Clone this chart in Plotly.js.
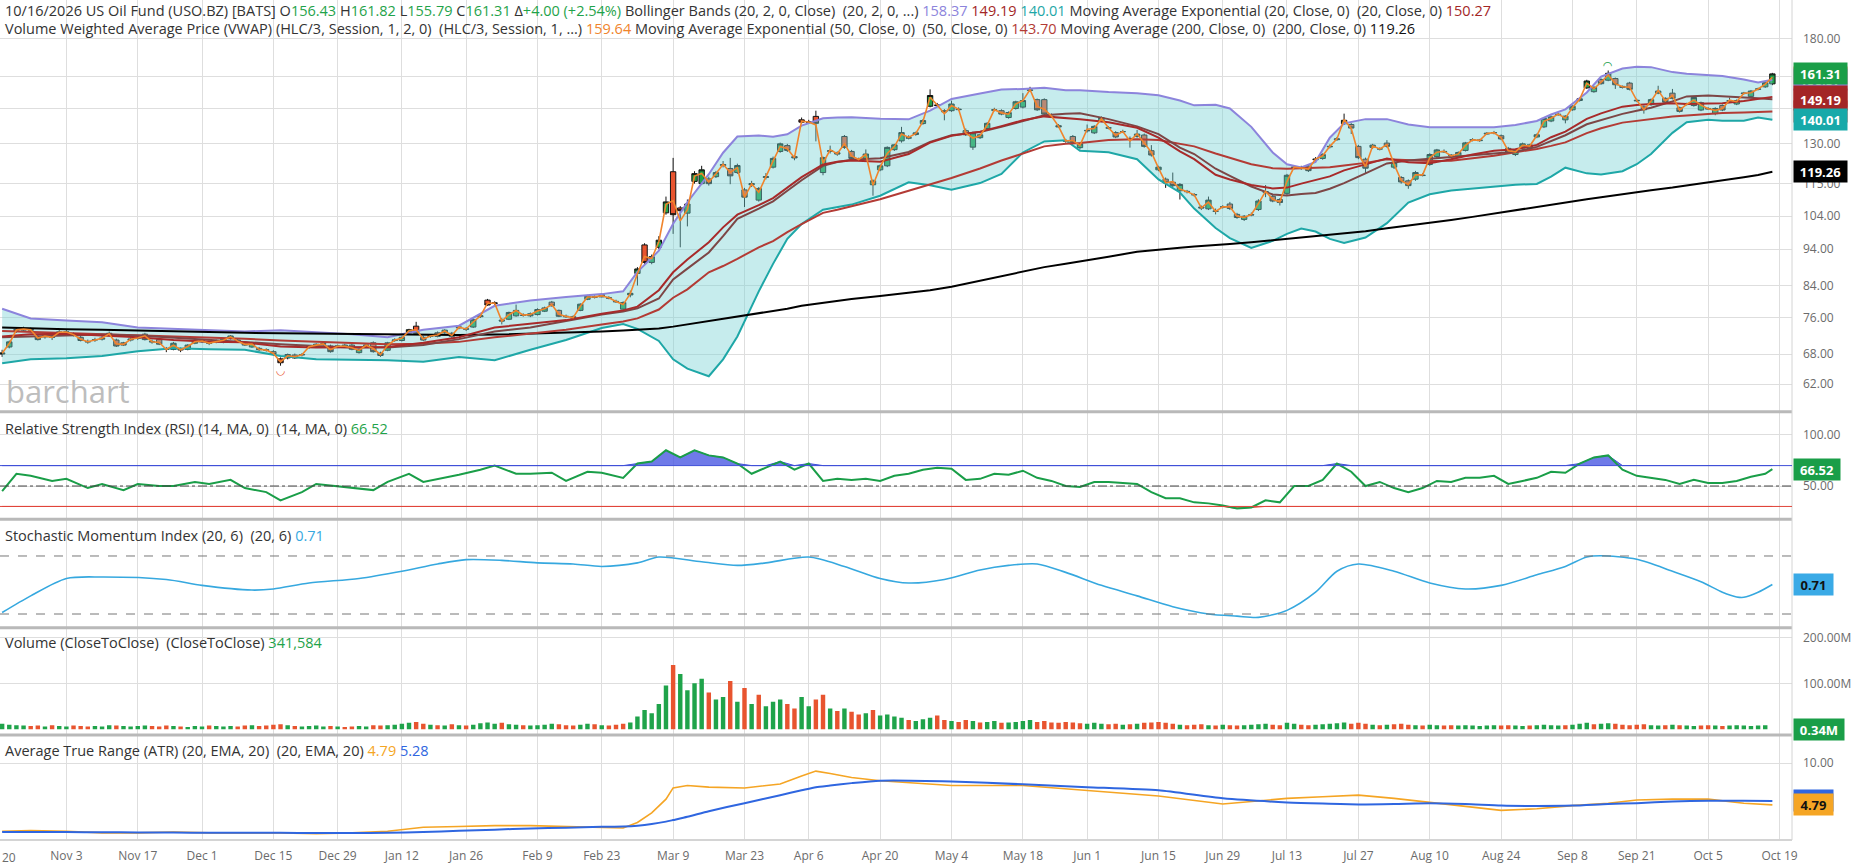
<!DOCTYPE html>
<html><head><meta charset="utf-8">
<script src="https://cdn.plot.ly/plotly-3.0.1.min.js"></script>
<style>html,body{margin:0;padding:0;background:#fff;overflow:hidden}#chart{width:1858px;height:868px}</style>
</head><body><div id="chart"></div>
<script>
// ---------- calendar ----------
const START_DATE = '2025-10-20';
const END_DATE = '2026-10-21';
const HOLIDAYS = ['2025-11-27','2025-12-25','2026-01-01','2026-01-19','2026-02-16','2026-04-03','2026-05-25','2026-06-19','2026-07-03','2026-09-07'];
const TICK_DATES = ['2025-10-20','2025-11-03','2025-11-17','2025-12-01','2025-12-15','2025-12-29','2026-01-12','2026-01-26','2026-02-09','2026-02-23','2026-03-09','2026-03-23','2026-04-06','2026-04-20','2026-05-04','2026-05-18','2026-06-01','2026-06-15','2026-06-29','2026-07-13','2026-07-27','2026-08-10','2026-08-24','2026-09-08','2026-09-21','2026-10-05','2026-10-19'];
const TICK_LABELS = ['Oct 20','Nov 3','Nov 17','Dec 1','Dec 15','Dec 29','Jan 12','Jan 26','Feb 9','Feb 23','Mar 9','Mar 23','Apr 6','Apr 20','May 4','May 18','Jun 1','Jun 15','Jun 29','Jul 13','Jul 27','Aug 10','Aug 24','Sep 8','Sep 21','Oct 5','Oct 19'];

// ---------- daily candles (trading-day index 1 = 2025-10-21 ... 249 = 2026-10-16) ----------
const OPEN = [68.0,69.5,73.1,73.2,73.4,71.8,71.7,71.8,72.5,72.7,72.3,71.6,70.7,71.0,71.2,72.5,71.0,70.4,71.0,71.4,71.1,70.7,71.1,69.1,69.0,69.0,69.0,70.3,70.6,70.4,70.6,70.5,71.3,71.0,70.4,69.5,69.2,68.9,68.5,67.0,67.2,67.8,67.8,69.4,69.5,70.1,69.7,69.6,69.9,69.9,68.3,69.8,70.4,68.2,68.8,70.9,70.9,72.6,74.1,71.6,71.8,72.6,72.6,72.5,73.7,73.4,73.9,76.3,80.3,79.5,75.5,75.7,76.5,76.7,76.5,76.8,77.6,79.8,77.8,76.4,76.3,77.8,80.5,81.0,81.7,80.9,80.0,78.1,81.6,87.2,95.2,90.2,94.5,105.1,119.3,106.7,105.0,115.8,115.0,116.7,117.5,121.6,120.5,119.0,112.8,114.6,109.3,117.2,121.0,127.0,129.3,125.0,140.0,139.0,141.5,119.0,127.0,126.5,133.0,127.0,124.0,124.3,114.6,120.0,121.5,127.7,131.2,132.3,133.8,138.4,146.0,146.3,144.0,144.0,144.7,135.4,128.7,132.5,136.3,144.2,144.0,141.0,145.0,145.6,153.3,149.0,149.0,141.5,137.5,131.3,133.0,128.5,135.3,134.5,139.5,136.6,134.6,135.0,132.2,133.0,133.6,127.3,120.0,116.6,115.5,112.5,112.3,111.2,107.0,106.4,105.7,107.0,108.0,104.6,103.0,104.4,106.2,112.0,110.6,109.5,111.6,120.8,120.5,121.4,123.8,124.3,128.8,131.7,138.3,138.0,129.0,124.0,128.6,128.0,130.3,121.0,117.2,116.0,116.6,117.9,122.0,125.0,126.8,125.4,125.0,127.4,131.7,131.3,134.0,134.5,133.3,128.2,125.8,128.3,128.3,132.8,137.0,139.5,142.2,140.0,144.4,148.6,154.5,152.7,158.5,158.2,159.0,154.7,156.8,148.7,145.7,146.7,152.0,149.6,152.0,145.3,147.0,146.3,144.3,145.0,142.7,146.3,148.3,147.0,151.8,150.5,153.8,155.0,156.43];
const HIGH = [68.9,70.9,73.9,74.0,73.8,72.3,72.4,72.2,73.2,73.2,72.7,71.9,71.1,71.5,71.9,72.9,71.3,70.6,71.6,71.9,72.6,71.1,71.4,69.5,70.6,69.4,70.1,71.0,71.1,70.8,71.1,71.4,72.1,71.3,70.6,70.6,69.5,69.2,68.8,67.3,68.1,68.1,68.2,69.9,70.3,70.5,70.0,70.0,70.2,70.2,69.2,70.2,70.7,68.5,70.6,71.4,71.8,73.5,75.1,71.9,72.3,72.9,73.4,72.8,74.3,73.9,75.9,76.9,80.6,80.0,76.0,77.5,79.2,77.1,77.3,78.3,78.7,80.1,78.0,76.8,76.6,79.5,81.6,81.5,82.0,81.3,80.4,80.0,82.7,88.9,95.7,92.4,97.8,110.5,124.5,107.3,109.5,119.5,121.5,117.5,119.6,123.3,124.5,122.3,113.5,116.0,113.8,118.8,125.0,130.5,130.0,125.6,141.0,140.0,144.0,125.0,129.3,127.0,133.6,127.6,124.6,127.8,116.5,122.0,129.0,130.0,137.0,133.5,135.0,140.3,153.8,147.5,144.7,148.5,145.5,136.3,135.0,134.2,139.0,145.3,144.6,143.7,148.5,152.0,155.0,149.5,149.6,142.8,138.2,132.0,133.6,130.4,138.0,137.7,141.5,137.3,135.2,135.8,133.0,135.7,134.2,129.5,121.5,117.2,119.0,115.2,112.8,111.7,107.5,110.5,106.5,107.6,108.7,105.1,104.4,105.2,109.6,114.5,111.2,110.0,118.5,121.8,121.5,122.0,124.8,126.3,129.8,132.8,142.7,138.6,129.6,124.6,130.0,128.6,131.5,123.3,117.7,116.5,119.6,118.8,126.3,128.0,127.8,126.0,127.0,130.8,132.3,132.0,134.8,135.3,133.8,128.8,127.9,130.5,130.0,134.2,141.0,141.8,143.2,142.0,146.4,149.9,158.4,155.3,159.1,163.0,159.5,155.6,157.4,149.4,146.3,149.5,155.5,150.1,154.0,145.8,147.6,150.5,148.1,145.6,145.5,146.8,150.0,149.1,152.6,153.5,154.6,157.5,161.82];
const LOW = [67.4,69.2,72.6,72.9,72.8,70.9,71.3,71.0,72.2,72.3,71.8,70.7,70.2,70.6,70.9,72.0,69.5,69.7,70.7,71.0,70.9,70.2,69.9,68.4,68.8,68.4,68.8,70.1,70.4,69.9,70.3,70.3,71.1,70.4,69.7,69.3,68.6,68.5,67.7,65.6,66.9,67.0,67.5,69.1,69.3,69.8,68.3,69.3,69.3,68.8,68.1,69.5,68.3,67.4,68.6,70.6,70.7,72.4,72.3,70.8,71.5,71.6,72.4,71.4,73.4,73.0,73.7,76.0,78.9,79.1,74.5,75.5,76.3,76.3,76.2,76.6,77.4,78.7,76.2,76.0,75.6,77.6,80.3,80.7,81.0,80.5,79.6,77.9,81.0,84.0,89.8,89.7,94.0,104.5,98.5,94.5,100.8,115.0,114.5,114.3,117.0,120.9,114.8,118.5,107.0,113.8,108.8,116.5,120.5,126.5,126.8,123.6,138.3,138.3,131.0,118.0,126.2,125.3,128.0,123.9,123.3,123.9,110.8,119.5,121.0,127.2,130.5,131.8,133.3,137.9,145.5,145.7,139.8,143.5,144.0,133.2,127.6,132.0,135.8,143.7,142.0,140.5,144.5,145.0,152.6,143.9,142.0,140.8,136.5,130.5,130.0,127.8,134.6,134.0,139.0,136.0,132.3,134.4,128.5,132.5,128.5,125.0,119.5,113.5,113.8,109.5,111.6,110.5,106.0,106.0,104.6,106.5,106.0,103.2,102.5,104.0,105.7,110.3,108.6,107.5,111.0,120.2,120.0,119.2,123.3,123.8,128.2,131.2,137.8,134.0,124.0,118.5,128.0,127.4,128.5,120.3,115.0,113.2,116.0,117.6,121.5,124.5,126.4,124.2,124.5,127.0,131.0,130.8,133.7,133.9,131.5,126.2,125.2,127.8,127.8,132.3,136.5,139.0,141.8,138.5,144.0,148.1,154.0,152.2,156.0,157.7,154.0,154.2,153.3,148.0,142.7,146.2,151.5,147.3,149.1,143.2,146.3,145.8,143.8,144.3,142.0,143.8,147.8,146.5,151.3,150.0,153.3,154.5,155.79];
const CLOSE = [68.2,70.6,73.3,73.5,73.2,71.1,71.9,71.6,72.8,72.8,72.1,70.9,70.6,71.1,71.4,72.3,69.7,69.9,71.2,71.5,72.3,70.6,70.1,69.0,70.3,68.9,69.9,70.8,70.9,70.3,70.7,71.2,71.9,70.6,69.9,70.4,68.9,68.8,67.9,66.2,67.9,67.2,67.9,69.6,70.1,70.2,68.5,69.7,69.5,69.0,69.0,69.9,68.5,67.7,70.4,71.0,71.6,73.3,72.5,71.0,71.9,71.8,73.2,71.8,73.9,73.5,75.6,76.5,79.1,79.6,75.3,77.3,77.8,76.6,77.0,78.0,78.4,78.9,76.4,76.3,76.0,79.3,81.3,81.1,81.1,80.8,79.9,79.7,82.0,88.4,90.2,91.8,96.6,108.7,104.5,105.8,108.0,118.6,120.0,115.0,119.0,122.0,117.8,121.6,110.3,115.0,113.3,117.5,124.3,130.0,127.4,124.5,139.0,139.0,138.5,124.6,127.3,126.0,128.6,124.3,123.8,126.0,116.0,121.5,128.6,129.6,134.6,132.5,134.5,139.7,150.9,146.5,143.5,147.0,144.5,133.7,134.5,133.7,138.5,144.4,142.5,143.2,148.0,148.6,153.5,144.4,142.5,141.3,137.0,131.2,130.5,130.0,135.5,137.2,141.0,136.5,132.8,135.0,132.0,134.0,129.0,125.6,121.0,115.3,114.3,114.7,112.2,111.1,106.7,109.3,105.6,107.0,106.5,103.6,104.0,104.5,109.0,112.2,109.0,108.5,118.0,121.0,120.6,119.7,124.0,125.8,129.0,132.0,139.8,136.5,124.6,120.6,129.5,128.0,129.0,122.8,115.6,114.3,119.0,118.0,125.8,127.6,127.0,125.5,126.6,130.4,131.5,131.5,134.3,134.6,132.0,126.7,127.4,130.0,129.6,133.7,140.6,141.3,142.4,141.6,146.0,149.4,157.8,154.8,156.5,161.6,156.0,155.2,153.8,148.5,144.4,149.0,153.0,147.8,149.6,143.7,146.8,150.0,147.6,144.8,145.0,144.3,148.5,148.6,152.0,153.0,154.0,157.0,161.31];
// volume in millions, same index
const VOLUME_M = [12,10,9,8,7,8,6,9,7,6,8,7,6,7,6,9,8,7,6,7,8,7,6,8,7,6,5,7,6,8,7,6,7,6,8,9,7,8,10,11,9,7,6,7,8,6,7,6,5,6,7,6,9,8,9,10,12,14,16,12,10,9,8,11,9,8,10,13,15,12,14,11,10,9,8,9,10,12,11,9,8,10,12,11,9,8,10,12,15,28,42,35,55,95,140,120,85,100,110,80,65,70,105,60,90,55,75,50,60,65,55,45,70,50,65,75,45,40,45,38,32,35,42,30,32,28,25,20,18,22,25,30,20,18,16,20,18,15,16,18,14,15,16,18,20,16,18,15,14,16,15,13,12,14,12,11,12,10,11,12,14,15,16,14,12,10,9,10,11,9,8,10,9,8,9,10,11,12,10,9,14,12,10,9,10,11,12,13,15,12,14,12,10,9,10,11,12,10,9,8,10,9,8,9,8,9,8,7,8,9,8,9,8,7,8,9,10,9,8,9,10,12,14,11,12,13,12,10,9,10,11,9,8,9,10,9,8,7,8,9,8,7,8,9,8,7,8,9,0.34];

// ---------- price-panel indicator lines (read at these trading-day indices) ----------
const IND_IDX = [1,5,10,15,20,25,30,35,40,45,50,55,60,65,70,75,80,85,88,90,93,95,97,100,102,104,107,109,111,113,116,118,120,124,128,131,134,138,141,144,147,150,152,156,160,163,166,168,171,173,176,179,181,183,185,187,189,192,195,198,201,204,207,210,213,216,218,220,223,225,228,230,232,235,237,240,242,245,247,249];
const BB_UPPER = [78.2,75.9,75.4,75.0,73.8,73.5,73.3,72.9,73.2,72.7,72.3,71.6,73.3,74.2,78.9,80.2,81.1,81.8,82.5,87.6,93.5,101.6,108.6,118.4,126.5,133.0,133.4,132.9,133.9,137.5,140.7,141.0,141.1,140.5,140.2,144.0,149.3,151.8,153.7,154.0,154.5,153.4,153.4,152.5,152.0,151.0,148.6,146.4,146.7,145.0,137.0,126.6,122.1,120.9,123.0,132.5,138.5,140.3,140.3,138.0,136.8,136.8,136.8,136.8,137.8,139.5,142.3,144.6,152.3,160.0,164.0,164.9,164.7,162.2,161.4,160.8,160.3,158.5,157.1,158.37];
const BB_LOWER = [66.1,66.9,67.1,67.6,68.6,69.2,69.0,68.9,67.6,66.9,66.8,66.7,66.4,67.4,66.7,68.9,71.0,73.7,74.6,73.5,70.8,66.9,65.0,63.5,66.9,71.8,82.5,89.8,97.0,101.5,106.1,107.0,107.8,110.8,115.5,114.4,112.9,115.2,118.5,126.6,131.0,131.5,127.3,126.7,124.0,116.5,111.9,106.5,100.3,97.2,94.3,96.4,98.5,100.1,99.2,97.0,95.8,97.4,101.8,108.5,111.3,112.6,113.3,114.1,114.6,114.9,117.5,120.8,118.7,118.3,119.5,122.1,126.0,134.5,139.0,140.0,139.6,139.6,141.0,140.01];
const BB_MIDDLE = [71.6,71.8,72.0,72.2,72.0,71.5,71.0,70.5,70.1,69.7,69.4,69.4,69.9,71.2,72.9,73.8,75.3,76.8,77.5,78.3,80.7,85.6,88.5,93.0,97.8,103.2,106.5,108.9,112.5,116.2,121.5,122.9,123.8,124.4,126.8,130.8,133.5,134.8,137.0,139.5,142.0,142.6,142.9,140.3,137.2,134.0,128.5,126.0,120.4,117.8,114.0,111.2,110.9,111.4,111.7,113.2,115.2,118.7,122.4,123.5,124.2,125.0,125.5,126.2,126.9,128.8,131.2,133.5,138.1,140.0,142.6,144.0,145.3,148.2,150.5,150.9,150.6,150.0,149.6,149.19];
const EMA20 = [71.8,72.3,72.4,72.0,71.6,71.0,70.6,70.5,69.6,69.4,69.4,69.5,70.4,71.6,73.8,74.6,75.5,77.0,77.8,78.7,82.8,87.5,91.0,96.0,100.5,104.5,107.6,110.0,113.5,117.3,122.0,123.0,123.5,123.0,126.0,130.5,133.3,135.0,137.3,139.8,141.5,140.8,140.3,139.0,136.6,132.5,127.0,124.0,118.2,116.5,114.5,113.3,113.6,115.0,116.2,117.6,119.8,122.0,124.3,122.8,122.5,124.0,125.8,127.3,127.9,129.6,132.7,135.0,140.4,142.8,145.8,146.5,147.0,147.3,147.0,147.2,147.4,148.4,149.2,150.27];
const EMA50 = [73.0,72.8,72.6,72.4,72.2,71.9,71.6,71.3,70.9,70.6,70.3,70.1,70.2,70.6,71.6,72.5,73.3,74.5,75.2,75.9,78.0,80.9,83.0,87.5,89.2,91.2,94.5,96.3,99.0,101.5,105.1,106.1,107.2,109.6,112.5,114.6,117.0,120.5,123.5,126.2,129.0,130.0,130.4,131.6,131.9,131.6,130.2,129.0,126.2,124.6,122.1,120.6,120.4,120.6,120.8,121.0,121.6,122.6,124.0,123.6,123.3,123.4,124.3,125.3,126.7,128.0,129.2,130.6,134.4,136.4,138.8,139.6,140.4,141.4,141.9,142.7,143.0,143.2,143.5,143.70];
const SMA200 = [73.8,73.6,73.4,73.3,73.1,73.0,72.8,72.6,72.5,72.4,72.3,72.2,72.1,72.1,72.2,72.4,72.6,72.9,73.1,73.3,73.6,74.0,74.5,75.3,75.8,76.4,77.2,77.7,78.2,78.9,79.6,80.1,80.6,81.3,82.1,82.8,83.7,85.3,86.5,87.7,88.9,89.8,90.4,91.8,93.2,93.9,94.4,94.7,95.1,95.5,96.0,96.6,97.0,97.3,97.7,98.1,98.5,99.3,100.2,101.0,101.9,102.8,103.8,104.9,106.0,107.0,107.7,108.4,109.6,110.3,111.4,112.0,112.7,113.6,114.3,115.3,116.0,117.3,118.1,119.26];

// ---------- RSI ----------
const RSI_IDX = [1,3,5,8,10,13,15,18,20,23,25,28,30,33,35,38,40,43,45,48,50,53,55,58,60,63,65,68,70,73,75,78,80,83,85,88,90,92,94,96,98,100,102,104,106,108,110,112,114,116,118,120,122,124,126,128,130,132,134,136,138,140,142,144,146,148,150,152,154,156,158,160,162,164,166,168,170,172,174,176,178,180,182,184,186,188,190,192,194,196,198,200,202,204,206,208,210,212,214,216,218,220,222,224,226,228,230,232,234,236,238,240,242,244,246,248,249];
const RSI = [45,62,60,55,57,48,52,46,52,50,50,54,52,56,48,44,36,44,52,50,48,46,54,62,54,58,61,66,70,62,62,63,55,64,63,58,72,74,85,78,85,80,78,72,62,68,74,66,72,55,57,56,57,55,60,62,66,68,67,56,57,62,61,65,58,55,50,49,54,54,53,52,44,38,38,34,33,31,28,29,36,34,50,50,56,72,64,50,54,48,44,48,55,54,58,58,60,52,55,58,64,63,72,78,80,66,60,58,56,52,56,53,53,55,59,62,66.52];

// ---------- SMI ----------
const SMI_IDX = [1,5,10,15,24,29,36,39,44,51,57,62,66,71,76,81,85,90,93,99,104,108,114,119,124,128,133,138,142,146,150,155,160,165,170,174,177,181,185,188,191,196,201,206,211,216,220,223,225,230,235,239,242,244,245,247,249];
const SMI = [-38,-15,9,11,7.6,-0.5,-7,-5.5,2.7,9,19,29,35,34,30.5,29,25.6,30.5,38.6,32,27,30.5,38.6,25.6,9,2.7,7.6,20.7,27,29,17.4,-0.5,-15,-30,-40,-43,-44.7,-35,-10,19,29,19,2.7,-5.5,-0.5,14,25.6,38.6,40.3,35.4,19,4.6,-10,-16.5,-17,-10,0.71];

// ---------- ATR ----------
const ATR_IDX = [1,5,10,15,20,25,30,35,40,45,50,55,60,65,70,75,80,85,88,90,92,94,95,97,100,105,110,113,115,117,120,124,134,144,153,163,172,181,186,191,196,201,206,211,216,221,226,230,235,240,245,249];
const ATR = [1.5,1.6,1.5,1.3,1.3,1.4,1.3,1.3,1.3,1.2,1.3,1.5,2.0,2.1,2.2,2.2,2.1,2.0,1.9,2.6,3.8,5.5,6.9,7.2,7.0,6.9,7.4,8.4,9.0,8.7,8.2,7.8,7.2,7.2,6.6,5.9,4.9,5.6,5.8,6.0,5.6,5.1,4.6,4.1,4.3,4.7,5.0,5.4,5.5,5.5,5.0,4.79];
const ATR_EMA = [1.4,1.4,1.4,1.38,1.35,1.33,1.32,1.3,1.3,1.28,1.28,1.3,1.4,1.55,1.7,1.85,1.95,2.05,2.1,2.2,2.4,2.7,2.9,3.3,4.0,5.0,6.0,6.6,7.0,7.2,7.5,7.8,7.7,7.35,7.0,6.6,5.6,5.1,4.95,4.85,4.9,5.0,4.9,4.7,4.65,4.7,4.9,5.0,5.2,5.3,5.3,5.28];

// ---------- build ----------
function ds(d){return d.toISOString().slice(0,10);}
const days=[]; {let d=new Date(START_DATE+'T00:00:00Z'); const e=new Date(END_DATE+'T00:00:00Z');
  while(d<=e){const w=d.getUTCDay(); const s=ds(d); if(w!==0&&w!==6&&HOLIDAYS.indexOf(s)<0) days.push(s); d=new Date(d.getTime()+86400000);} }
const dayIndex = s => days.indexOf(s);
const candleX = OPEN.map((_,k)=>k+1);
const tickVals = TICK_DATES.map(dayIndex);

const C = {green:'#1fa34a', red:'#e8542f', up:'#8c84dc', low:'#1ea7a7', fill:'rgba(120,210,212,0.42)',
  mid:'#7d4646', e20:'#a82a2a', e50:'#b33b35', vwap:'#f0842c', grid:'#dedede'};

const traces = [];
traces.push({x:IND_IDX,y:BB_UPPER,type:'scatter',mode:'lines',line:{color:C.up,width:2},hoverinfo:'skip',yaxis:'y'});
traces.push({x:IND_IDX,y:BB_LOWER,type:'scatter',mode:'lines',line:{color:C.low,width:2},fill:'tonexty',fillcolor:C.fill,hoverinfo:'skip',yaxis:'y'});
traces.push({x:IND_IDX,y:SMA200,type:'scatter',mode:'lines',line:{color:'#000',width:2},hoverinfo:'skip',yaxis:'y'});
traces.push({x:IND_IDX,y:EMA50,type:'scatter',mode:'lines',line:{color:C.e50,width:2},hoverinfo:'skip',yaxis:'y'});
traces.push({x:IND_IDX,y:BB_MIDDLE,type:'scatter',mode:'lines',line:{color:C.mid,width:2},hoverinfo:'skip',yaxis:'y'});
traces.push({x:IND_IDX,y:EMA20,type:'scatter',mode:'lines',line:{color:C.e20,width:2},hoverinfo:'skip',yaxis:'y'});
const VWAP = CLOSE.map((c,k)=>(HIGH[k]+LOW[k]+c)/3);
traces.push({x:candleX,y:VWAP,type:'scatter',mode:'lines',line:{color:C.vwap,width:1.6},hoverinfo:'skip',yaxis:'y'});
traces.push({type:'candlestick',x:candleX,open:OPEN,high:HIGH,low:LOW,close:CLOSE,yaxis:'y',
  increasing:{line:{color:'#111',width:1},fillcolor:C.green},decreasing:{line:{color:'#111',width:1},fillcolor:C.red},
  whiskerwidth:0,hoverinfo:'skip',showlegend:false});

// RSI
const rsiHi = RSI.map(v=>Math.max(v,70)), rsiLo = RSI.map(v=>Math.min(v,30));
traces.push({x:RSI_IDX,y:RSI_IDX.map(()=>70),type:'scatter',mode:'lines',line:{width:0},hoverinfo:'skip',yaxis:'y2'});
traces.push({x:RSI_IDX,y:rsiHi,type:'scatter',mode:'lines',line:{width:1,color:'#3f4fd8'},fill:'tonexty',fillcolor:'rgba(70,85,225,0.78)',hoverinfo:'skip',yaxis:'y2'});
traces.push({x:RSI_IDX,y:RSI_IDX.map(()=>30),type:'scatter',mode:'lines',line:{width:0},hoverinfo:'skip',yaxis:'y2'});
traces.push({x:RSI_IDX,y:rsiLo,type:'scatter',mode:'lines',line:{width:1,color:'#e0443a'},fill:'tonexty',fillcolor:'rgba(230,70,60,0.7)',hoverinfo:'skip',yaxis:'y2'});
traces.push({x:RSI_IDX,y:RSI,type:'scatter',mode:'lines',line:{color:'#1a9e48',width:2},hoverinfo:'skip',yaxis:'y2'});
// SMI
traces.push({x:SMI_IDX,y:SMI,type:'scatter',mode:'lines',line:{color:'#36a8df',width:1.6,shape:'spline',smoothing:0.8},hoverinfo:'skip',yaxis:'y3'});
// Volume
const volColors = CLOSE.map((c,k)=> (k===0 ? c>=OPEN[k] : c>=CLOSE[k-1]) ? C.green : C.red);
traces.push({x:candleX,y:VOLUME_M,type:'bar',marker:{color:volColors,line:{width:0}},width:0.62,hoverinfo:'skip',yaxis:'y4'});
// ATR
traces.push({x:ATR_IDX,y:ATR,type:'scatter',mode:'lines',line:{color:'#f5a524',width:1.6},hoverinfo:'skip',yaxis:'y5'});
traces.push({x:ATR_IDX,y:ATR_EMA,type:'scatter',mode:'lines',line:{color:'#2f66e0',width:2,shape:'spline',smoothing:0.6},hoverinfo:'skip',yaxis:'y5'});

// ---------- layout ----------
const H = 840; // plot-area height in px (figure 868, bottom margin 28)
const py = px => 1 - px/H;
const tickFont = {family:'Open Sans, sans-serif', size:12, color:'#6b6b6b'};
const yBase = {side:'right', showgrid:true, gridcolor:C.grid, gridwidth:1, zeroline:false, ticks:'', ticklabelstandoff:10,
  tickfont:tickFont, fixedrange:true, showline:false, anchor:'x'};
const PRICE_TICKS = [62,68,76,84,94,104,115,130,145,160,180];
const f2 = v => v.toFixed(2);
const nb = '\u00a0';
const sp = (c,t)=>`<span style="color:${c}">${t}</span>`;
const hdr1 = `10/16/2026 US Oil Fund (USO.BZ) [BATS] O${sp(C.green,'156.43')} H${sp(C.green,'161.82')} L${sp(C.green,'155.79')} C${sp(C.green,'161.31')} Δ${sp(C.green,'+4.00 (+2.54%)')} Bollinger Bands (20, 2, 0, Close)${nb} (20, 2, 0, ...) ${sp(C.up,'158.37')} ${sp('#a32626','149.19')} ${sp(C.low,'140.01')} Moving Average Exponential (20, Close, 0)${nb} (20, Close, 0) ${sp('#a32626','150.27')}`;
const hdr2 = `Volume Weighted Average Price (VWAP) (HLC/3, Session, 1, 2, 0)${nb} (HLC/3, Session, 1, ...) ${sp(C.vwap,'159.64')} Moving Average Exponential (50, Close, 0)${nb} (50, Close, 0) ${sp('#b33b35','143.70')} Moving Average (200, Close, 0)${nb} (200, Close, 0) ${sp('#111','119.26')}`;
const txtFont = {family:'Open Sans, sans-serif', size:14.5, color:'#333'};
const ann = [];
const addText = (t,yp)=>ann.push({xref:'paper',yref:'paper',x:0.0016,y:py(yp),xanchor:'left',yanchor:'middle',text:t,showarrow:false,font:txtFont});
addText(hdr1,11); addText(hdr2,29);
addText(`Relative Strength Index (RSI) (14, MA, 0)${nb} (14, MA, 0) ${sp(C.green,'66.52')}`,428);
addText(`Stochastic Momentum Index (20, 6)${nb} (20, 6) ${sp('#36a8df','0.71')}`,535);
addText(`Volume (CloseToClose)${nb} (CloseToClose) ${sp(C.green,'341,584')}`,642);
addText(`Average True Range (ATR) (20, EMA, 20)${nb} (20, EMA, 20) ${sp('#f5a524','4.79')} ${sp('#2f66e0','5.28')}`,750);
ann.push({xref:'paper',yref:'paper',x:0.002,y:py(391),xanchor:'left',yanchor:'middle',text:'barchart',showarrow:false,
  font:{family:'Open Sans, sans-serif',size:31,color:'#bdbdbd'}});
ann.push({xref:'paper',yref:'paper',x:0,y:0,yshift:-17,xanchor:'left',yanchor:'middle',text:'20',showarrow:false,font:tickFont});
// badges
const badge = (yref,val,txt,bg,fc,w)=>ann.push({xref:'paper',yref:yref,x:1,xshift:1,xanchor:'left',yanchor:'middle',
  y: yref==='y' ? Math.log10(val) : val, text:`<b>${txt}</b>`, showarrow:false, bgcolor:bg, borderpad:2, width:w, height:17,
  align:'center', font:{family:'Open Sans, sans-serif',size:13,color:fc}});
badge('y',159.64,'159.64',C.vwap,'#fff',49);
badge('y',158.37,'158.37',C.up,'#fff',49);
badge('y',150.27,'150.27','#a32626','#fff',49);
badge('y',143.70,'143.70','#b33b35','#fff',49);
badge('y',149.19,'149.19','#a32626','#fff',49);
badge('y',140.01,'140.01','#17a9a9','#fff',49);
badge('y',161.31,'161.31','#1a9e48','#fff',49);
badge('y',119.26,'119.26','#000','#fff',49);
badge('y2',66.52,'66.52','#1a9e48','#fff',42);
badge('y3',0.71,'0.71','#3aaae6','#111',35);
badge('y4',0.34,'0.34M','#1a9e48','#fff',46);
badge('y5',5.28,'5.28','#2f66e0','#fff',35);
badge('y5',4.79,'4.79','#f5a524','#111',35);
// extreme markers
ann.push({xref:'x',yref:'y',x:40,y:Math.log10(64.6),text:'◡',showarrow:false,font:{family:'DejaVu Sans',size:11,color:'#e8542f'}});
ann.push({xref:'x',yref:'y',x:226,y:Math.log10(165.5),text:'◠',showarrow:false,font:{family:'DejaVu Sans',size:11,color:'#1a9e48'}});

const shapes = [];
[411.7,519.3,627.7,735].forEach(p=>shapes.push({type:'line',xref:'paper',yref:'paper',x0:0,x1:1,y0:py(p),y1:py(p),line:{color:'#b9b9b9',width:3}}));
shapes.push({type:'line',xref:'paper',yref:'paper',x0:0,x1:1,y0:0,y1:0,line:{color:'#d4d4d4',width:2}});
shapes.push({type:'line',xref:'paper',yref:'paper',x0:1,x1:1,y0:0,y1:1,line:{color:'#d4d4d4',width:1}});
// RSI reference lines
shapes.push({type:'line',xref:'paper',yref:'y2',x0:0,x1:1,y0:70,y1:70,line:{color:'#3f4fd8',width:1}});
shapes.push({type:'line',xref:'paper',yref:'y2',x0:0,x1:1,y0:30,y1:30,line:{color:'#e0443a',width:1}});
shapes.push({type:'line',xref:'paper',yref:'y2',x0:0,x1:1,y0:50,y1:50,line:{color:'#444',width:1,dash:'dashdot'}});
// SMI reference lines
shapes.push({type:'line',xref:'paper',yref:'y3',x0:0,x1:1,y0:40,y1:40,line:{color:'#777',width:1,dash:'dash'}});
shapes.push({type:'line',xref:'paper',yref:'y3',x0:0,x1:1,y0:-40,y1:-40,line:{color:'#777',width:1,dash:'dash'}});

const layout = {
  width:1858, height:868, margin:{l:0,r:66,t:0,b:28}, paper_bgcolor:'#fff', plot_bgcolor:'#fff', showlegend:false,
  font:{family:'Open Sans, sans-serif'}, bargap:0.3, boxgap:0.25, boxgroupgap:0,
  xaxis:{anchor:'y5', range:[0.70,251.75], tickvals:tickVals, ticktext:TICK_LABELS, showgrid:true, gridcolor:C.grid,
    zeroline:false, ticks:'', tickfont:tickFont, ticklabelstandoff:7, rangeslider:{visible:false}, fixedrange:true, showline:false},
  yaxis:Object.assign({}, yBase, {domain:[py(411.7),1], type:'log', range:[1.7553,2.3066], tickvals:PRICE_TICKS, ticktext:PRICE_TICKS.map(f2)}),
  yaxis2:Object.assign({}, yBase, {domain:[py(519.3),py(411.7)], range:[17.4,122.8], tickvals:[50,100], ticktext:['50.00','100.00']}),
  yaxis3:Object.assign({}, yBase, {domain:[py(627.7),py(519.3)], range:[-58.9,90.6], showticklabels:false, showgrid:false}),
  yaxis4:Object.assign({}, yBase, {domain:[py(735),py(627.7)], range:[-12.4,220.9], tickvals:[100,200], ticktext:['100.00M','200.00M']}),
  yaxis5:Object.assign({}, yBase, {domain:[0,py(735)], range:[0.41,13.5], tickvals:[10], ticktext:['10.00']}),
  annotations:ann, shapes:shapes
};
Plotly.newPlot('chart', traces, layout, {staticPlot:true, displayModeBar:false});
</script></body></html>
